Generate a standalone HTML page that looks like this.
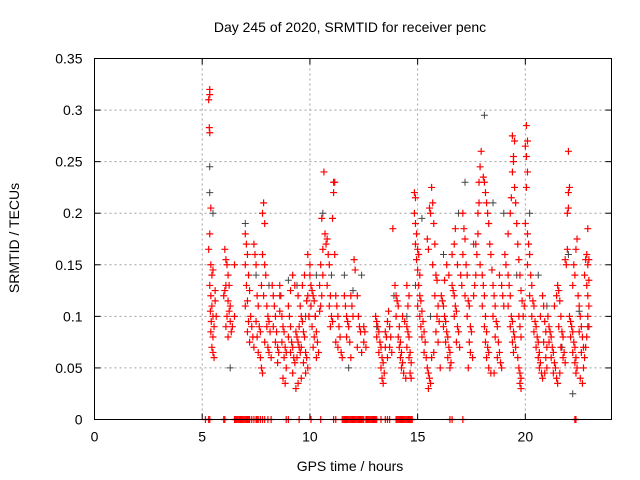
<!DOCTYPE html>
<html><head><meta charset="utf-8"><style>
body{margin:0;background:#fff}
svg{display:block;font-family:"Liberation Sans",sans-serif}
</style></head><body>
<svg id="chart" width="640" height="480" viewBox="0 0 640 480">
<rect width="640" height="480" fill="#fff"/>
<text x="350" y="32" font-size="14" text-anchor="middle">Day 245 of 2020, SRMTID for receiver penc</text>
<text x="0" y="0" font-size="14" text-anchor="middle" transform="translate(19,238) rotate(-90)">SRMTID / TECUs</text>
<text x="350" y="471" font-size="14" text-anchor="middle">GPS time / hours</text>
<g id="grid"></g>
<g id="ticks"></g>
<g id="marks"></g>
<rect x="94.5" y="58.5" width="517" height="361" fill="none" stroke="#000" stroke-width="1"/>
</svg>
<script>
const xTicks=[0,5,10,15,20];
const yTicks=[0,0.05,0.1,0.15,0.2,0.25,0.3,0.35];
const yTickLabels=["0","0.05","0.1","0.15","0.2","0.25","0.3","0.35"];
const redPts=[[5.35,.32],[5.35,.315],[5.3,.31],[5.33,.283],[5.35,.278],[5.4,.205],[5.35,.18],[5.3,.165],[5.4,.15],[5.45,.14],[5.35,.13],[5.4,.12],[5.45,.11],[5.38,.105],[5.5,.1],[5.42,.095],[5.55,.09],[5.4,.085],[5.5,.08],[5.45,.07],[5.5,.065],[5.55,.06],[5.6,.115],[5.6,.125],[5.65,.1],[5.5,.145],
[6.05,.165],[6.1,.155],[6.15,.15],[6.2,.14],[6.1,.13],[6.25,.13],[6.0,.12],[6.2,.115],[6.3,.11],[6.15,.1],[6.3,.095],[6.1,.09],[6.4,.09],[6.2,.08],[6.05,.125],[6.35,.085],[6.25,.105],[6.5,.1],[6.5,.15],
[7.0,.18],[7.05,.17],[7.1,.16],[7.0,.15],[7.15,.14],[7.05,.13],[7.2,.125],[7.1,.115],[7.0,.11],[7.25,.1],[7.15,.095],[7.3,.09],[7.1,.085],[7.35,.08],[7.2,.075],[7.4,.17],[7.45,.16],[7.5,.15],[7.55,.12],[7.6,.11],[7.5,.095],[7.65,.09],[7.7,.085],[7.55,.08],[7.4,.07],[7.6,.065],[7.7,.06],[7.75,.13],[7.8,.2],[7.85,.21],[7.9,.19],[7.8,.16],[7.9,.15],[7.95,.14],[7.85,.12],[8.0,.11],[8.05,.1],[8.1,.095],[8.0,.09],[8.15,.085],[7.9,.075],[8.05,.07],[8.1,.065],[8.2,.06],[7.8,.045],[7.75,.05],[8.25,.13],[8.3,.12],[8.35,.11],[8.4,.1],[8.3,.09],[8.45,.085],[8.4,.075],[8.5,.07],[8.55,.065],[8.5,.055],[8.6,.13],[8.65,.12],[8.6,.105],[8.7,.1],[8.75,.09],[8.8,.085],[8.7,.075],[8.85,.07],[8.9,.065],[8.8,.06],[8.9,.05],[8.75,.04],[8.85,.035],
[9.0,.11],[9.05,.1],[9.1,.09],[9.0,.08],[9.15,.075],[9.2,.07],[9.1,.065],[9.25,.06],[9.3,.055],[9.2,.045],[9.35,.085],[9.4,.08],[9.45,.075],[9.5,.07],[9.55,.065],[9.4,.06],[9.6,.1],[9.65,.095],[9.5,.09],[9.7,.085],[9.75,.08],[9.6,.07],[9.8,.065],[9.85,.06],[9.7,.055],[9.9,.05],[9.8,.045],[9.6,.04],[9.45,.035],[9.35,.03],[9.55,.11],[9.45,.12],[9.3,.13],[9.2,.14],[9.1,.125],[9.65,.13],[9.9,.12],[9.85,.115],[9.95,.1],[9.75,.14],[9.9,.16],[10.0,.15],[10.0,.14],
[10.05,.13],[10.1,.125],[10.15,.12],[10.2,.115],[10.05,.11],[10.25,.1],[10.1,.09],[10.3,.085],[10.2,.08],[10.35,.075],[10.15,.07],[10.4,.065],[10.3,.06],[10.25,.1],[10.45,.105],[10.5,.11],[10.55,.12],[10.45,.13],[10.6,.14],[10.5,.15],[10.6,.165],[10.55,.195],[10.65,.24],[10.7,.18],[10.75,.17],[10.8,.175],[10.85,.16],[10.9,.15],[10.8,.13],[10.95,.12],[10.9,.11],[11.0,.1],[11.05,.095],[10.95,.09],[11.1,.23],[11.15,.23],[11.1,.22],[11.05,.195],[11.15,.16],[11.2,.12],[11.25,.11],[11.3,.1],[11.35,.09],[11.4,.08],[11.3,.07],[11.45,.065],[11.5,.06],[11.2,.075],
[11.6,.12],[11.65,.11],[11.7,.1],[11.75,.095],[11.8,.09],[11.7,.08],[11.85,.075],[11.9,.12],[11.95,.11],[12.0,.1],[11.9,.06],[12.05,.155],[12.1,.145],[12.2,.12],[12.25,.1],[12.3,.09],[12.35,.085],[12.2,.07],[12.4,.065],[12.5,.09],[12.55,.085],[12.5,.075],[12.6,.07],
[13.05,.1],[13.1,.095],[13.15,.09],[13.2,.085],[13.1,.08],[13.25,.075],[13.3,.07],[13.2,.065],[13.35,.06],[13.4,.055],[13.3,.05],[13.45,.045],[13.35,.04],[13.4,.035],[13.5,.085],[13.55,.08],[13.5,.07],[13.6,.095],[13.65,.105],[13.7,.09],[13.75,.08],[13.7,.07],[13.8,.065],[13.6,.06],[13.85,.185],
[13.95,.13],[14.0,.12],[14.05,.115],[14.1,.11],[14.0,.1],[14.15,.09],[14.1,.08],[14.2,.075],[14.15,.07],[14.25,.065],[14.2,.06],[14.3,.055],[14.25,.05],[14.35,.045],[14.45,.04],[14.3,.1],[14.4,.095],[14.5,.09],[14.55,.085],[14.6,.08],[14.5,.07],[14.65,.065],[14.6,.06],[14.7,.055],[14.65,.045],[14.7,.04],[14.55,.11],[14.6,.12],[14.5,.13],
[14.85,.22],[14.9,.215],[14.85,.2],[14.9,.19],[14.95,.18],[14.9,.17],[15.0,.165],[15.05,.16],[14.95,.155],[15.0,.145],[15.1,.14],[15.05,.13],[15.1,.12],[15.15,.115],[15.0,.11],[15.2,.105],[15.1,.1],[15.25,.095],[15.15,.09],[15.3,.085],[15.2,.08],[15.35,.075],[15.3,.065],[15.4,.06],[15.45,.05],[15.5,.045],[15.55,.04],[15.6,.035],[15.5,.03],[15.45,.175],[15.5,.165],[15.55,.205],[15.6,.2],[15.65,.225],[15.7,.21],[15.75,.19],[15.8,.17],[15.7,.15],[15.85,.14],[15.9,.135],[15.8,.12],[15.95,.11],[15.9,.1],[16.0,.095],[15.85,.085],[15.95,.075],[15.75,.065],[15.65,.06],[16.05,.05],
[16.1,.12],[16.15,.115],[16.2,.11],[16.25,.1],[16.3,.095],[16.2,.09],[16.35,.085],[16.4,.08],[16.3,.075],[16.45,.07],[16.5,.065],[16.4,.06],[16.55,.055],[16.5,.05],[16.25,.135],[16.35,.15],[16.45,.14],[16.6,.13],[16.65,.125],[16.7,.12],[16.75,.11],[16.8,.105],[16.7,.1],[16.85,.09],[16.9,.085],[16.8,.075],[16.95,.07],[16.6,.16],[16.7,.17],[16.75,.185],[16.85,.15],[17.0,.14],[17.05,.13],[17.1,.2],[17.15,.185],[17.2,.175],[17.1,.16],[17.25,.15],[17.3,.14],[17.2,.12],[17.35,.115],[17.4,.11],[17.3,.1],[17.45,.09],[17.5,.085],[17.4,.075],[17.45,.065],[17.55,.06],[17.35,.05],
[17.6,.12],[17.65,.13],[17.7,.14],[17.75,.16],[17.8,.18],[17.85,.21],[17.9,.245],[17.95,.26],[17.85,.23],[17.8,.2],[17.7,.17],[17.9,.15],[18.0,.14],[18.05,.13],[18.1,.12],[18.0,.11],[18.15,.1],[18.1,.09],[18.2,.085],[18.15,.075],[18.25,.07],[18.3,.065],[18.2,.06],[18.3,.05],[18.4,.045],[18.05,.235],[18.1,.23],[18.15,.22],[18.2,.21],[18.25,.2],[18.3,.19],[18.35,.17],[18.4,.16],[18.45,.145],[18.5,.13],[18.55,.12],[18.6,.11],[18.5,.1],[18.65,.095],[18.7,.09],[18.6,.08],[18.75,.075],[18.8,.065],[18.7,.06],[18.85,.055],[18.9,.05],[18.55,.045],[18.8,.14],[18.9,.13],[18.95,.12],[19.0,.11],
[19.05,.16],[19.1,.15],[19.2,.14],[19.25,.13],[19.3,.12],[19.2,.11],[19.35,.1],[19.4,.095],[19.3,.09],[19.45,.085],[19.5,.08],[19.4,.075],[19.55,.07],[19.45,.065],[19.2,.18],[19.3,.2],[19.35,.215],[19.4,.24],[19.45,.255],[19.5,.27],[19.4,.275],[19.45,.25],[19.5,.225],[19.55,.21],[19.6,.19],[19.65,.17],[19.7,.155],[19.75,.14],[19.8,.125],[19.85,.115],[19.7,.1],[19.75,.09],[19.8,.08],[19.65,.06],[19.7,.05],[19.75,.045],[19.8,.04],[19.75,.035],[19.8,.03],[19.9,.1],[19.95,.11],
[20.05,.285],[20.1,.27],[20.0,.265],[20.05,.255],[20.1,.24],[20.05,.225],[20.0,.19],[20.1,.18],[20.15,.17],[20.2,.16],[20.1,.15],[20.25,.14],[20.3,.13],[20.2,.12],[20.35,.115],[20.4,.11],[20.3,.1],[20.45,.095],[20.5,.09],[20.4,.085],[20.55,.08],[20.6,.075],[20.5,.07],[20.65,.065],[20.6,.06],[20.7,.055],[20.65,.05],[20.75,.045],[20.8,.04],[20.7,.1],[20.8,.12],[20.85,.11],[20.9,.095],[20.95,.085],[20.85,.075],[21.0,.07],[20.95,.06],[21.0,.05],[20.9,.045],
[21.05,.1],[21.1,.09],[21.15,.085],[21.2,.08],[21.1,.075],[21.25,.07],[21.3,.065],[21.2,.06],[21.35,.055],[21.4,.05],[21.3,.045],[21.45,.04],[21.5,.035],[21.35,.11],[21.45,.12],[21.5,.13],[21.55,.125],[21.6,.115],[21.65,.1],[21.55,.09],[21.7,.085],[21.75,.08],[21.65,.07],[21.8,.065],[21.75,.06],[21.85,.055],[21.6,.045],[21.85,.155],[21.9,.15],[21.95,.2],[22.0,.205],[22.0,.22],[22.05,.225],[22.0,.26],[21.95,.165],[22.05,.1],
[22.1,.095],[22.15,.09],[22.2,.085],[22.1,.08],[22.25,.075],[22.3,.07],[22.2,.065],[22.35,.06],[22.3,.055],[22.4,.05],[22.35,.045],[22.2,.13],[22.25,.15],[22.3,.14],[22.35,.165],[22.4,.175],[22.45,.12],[22.5,.11],[22.55,.1],[22.6,.09],[22.5,.085],[22.65,.08],[22.7,.07],[22.6,.065],[22.75,.06],[22.7,.05],[22.55,.04],[22.65,.035],[22.75,.14],[22.8,.155],[22.85,.16],[22.9,.15],[22.85,.13],[22.9,.12],[22.95,.11],[22.9,.1],[22.95,.09],[22.85,.08],[22.8,.07],[22.9,.185],[22.95,.155],[22.95,.135]];
const blackPts=[[5.35,.245],[5.35,.22],[5.5,.2],[6.3,.05],[7.0,.19],[7.5,.14],[8.1,.13],[8.6,.12],[9.0,.135],[9.4,.13],[9.8,.1],[10.3,.14],[10.6,.2],[11.0,.14],[11.6,.14],[12.0,.125],[12.4,.14],[13.1,.09],[13.9,.12],[14.5,.1],[15.2,.195],[15.6,.1],[16.2,.16],[16.9,.2],[17.2,.23],[17.6,.17],[18.1,.295],[18.5,.21],[19.0,.2],[19.6,.14],[20.2,.2],[20.6,.14],[21.0,.11],[21.7,.07],[22.0,.16],[22.2,.025],[22.5,.105],[22.9,.09],[11.8,.05],[14.9,.13]];
const zeroTimes=[5.15,5.3,5.35,6.0,6.05,6.5,6.55,6.6,6.65,6.7,6.75,6.8,6.85,6.9,6.95,7.0,7.05,7.1,7.15,7.2,7.3,7.4,7.5,7.55,7.6,7.7,7.8,7.9,8.05,8.2,8.9,9.0,9.5,10.05,10.5,11.1,11.2,11.5,11.55,11.6,11.65,11.7,11.75,11.8,11.85,11.9,11.95,12.0,12.05,12.1,12.15,12.2,12.25,12.3,12.35,12.4,12.45,12.5,12.6,12.65,12.7,12.75,12.8,12.85,12.9,12.95,13.0,13.05,13.1,13.3,13.5,13.6,13.7,14.0,14.05,14.1,14.15,14.2,14.25,14.3,14.35,14.4,14.45,14.5,14.55,14.6,14.65,14.7,14.75,16.5,16.6,17.1,22.3,22.35];
const NS='http://www.w3.org/2000/svg';
const L=94.5,R=611.5,T=58.5,B=419.5,XMAX=24,YMAX=0.35;
function xs(t){return L+(t/XMAX)*(R-L);}
function ys(v){return B-(v/YMAX)*(B-T);}
function mk(tag,attrs,parent){const e=document.createElementNS(NS,tag);for(const k in attrs)e.setAttribute(k,attrs[k]);parent.appendChild(e);return e;}
const grid=document.getElementById('grid'),ticks=document.getElementById('ticks'),marks=document.getElementById('marks');
xTicks.forEach(t=>{const x=xs(t);
 if(t>0){const g=mk('line',{x1:x,x2:x,y1:T,y2:B,stroke:'#a0a0a0','stroke-dasharray':'2,3'},grid);
 
 }
 mk('line',{x1:x,x2:x,y1:B,y2:B-6,stroke:'#000'},ticks);
 mk('line',{x1:x,x2:x,y1:T,y2:T+6,stroke:'#000'},ticks);
 const lb=mk('text',{x:x,y:B+22,'font-size':14,'text-anchor':'middle'},ticks);lb.textContent=String(t);
 
 
});
yTicks.forEach((v,i)=>{const y=ys(v);
 if(v>0&&v<YMAX){const g=mk('line',{x1:L,x2:R,y1:y,y2:y,stroke:'#a0a0a0','stroke-dasharray':'2,3'},grid);
 
 }
 mk('line',{x1:L,x2:L+6,y1:y,y2:y,stroke:'#000'},ticks);
 mk('line',{x1:R,x2:R-6,y1:y,y2:y,stroke:'#000'},ticks);
 const lb=mk('text',{x:L-12,y:y+5,'font-size':14,'text-anchor':'end'},ticks);lb.textContent=yTickLabels[i];
 
 
});
function plus(t,v,col,w,name){const x=xs(t),y=ys(v);
 const p=mk('path',{d:`M${x-3.5},${y}H${x+3.5}M${x},${y-3.5}V${y+3.5}`,stroke:col,'stroke-width':w,fill:'none'},marks);
 
 }
blackPts.forEach(p=>plus(p[0],p[1],'#444',1,'black-point'));
redPts.forEach(p=>plus(p[0],p[1],'#ff0000',1.2,'red-point'));
zeroTimes.forEach(t=>plus(t,0,'#ff0000',1.2,'zero-point'));
</script>
</body></html>
